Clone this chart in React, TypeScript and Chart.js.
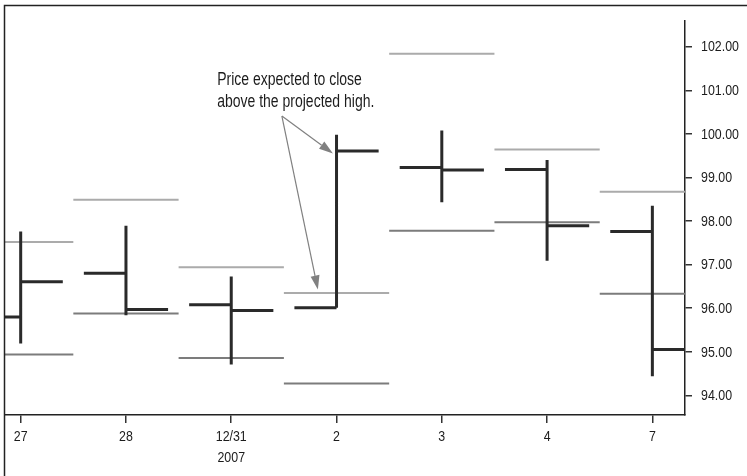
import React, { useEffect, useRef } from 'react';
import { Chart, registerables } from 'chart.js';

Chart.register(...registerables);

// ---- data ----
const days = ['27', '28', '12/31', '2', '3', '4', '7'];
const daySub = ['', '', '2007', '', '', '', ''];
const openP = [95.8, 96.8, 96.08, 96.01, 99.23, 99.18, 97.76];
const highP = [97.76, 97.89, 96.73, 99.98, 100.08, 99.4, 98.35];
const lowP = [95.19, 95.84, 94.71, 96.01, 98.43, 97.09, 94.44];
const closeP = [96.61, 95.97, 95.95, 99.61, 99.17, 97.89, 95.05];
const projHigh = [97.52, 98.49, 96.94, 96.35, 101.84, 99.64, 98.67];
const projLow = [94.94, 95.88, 94.86, 94.27, 97.78, 97.97, 96.33];
const yTicks = [94, 95, 96, 97, 98, 99, 100, 101, 102];
const noteLines = ['Price expected to close', 'above the projected high.'];
const noteAnchor = { x: 1.866, y: 101.12 };
const arrowFrom = { x: 2.481, y: 100.41 };
const arrowTips = [
  { x: 2.966, y: 99.55 },
  { x: 2.823, y: 96.43 },
];

const FONT = "'Liberation Sans', Arial, sans-serif";
const NARROW = 0.8; // horizontal squeeze to mimic a condensed face
const TICK_HALF = 0.4;
const PROJ_HALF = 0.5;
const TEXT_COLOR = '#1c1c1c';

type Pt = { x: number; y: number | null };
function segments(list: [number, number, number, number][]): Pt[] {
  const out: Pt[] = [];
  list.forEach(([x1, y1, x2, y2]) => {
    out.push({ x: x1, y: y1 }, { x: x2, y: y2 }, { x: x2, y: null });
  });
  return out;
}
type Seg = [number, number, number, number];
const rangeSegs = segments(days.map((_, i) => [i, lowP[i], i, highP[i]] as Seg));
const openSegs = segments(days.map((_, i) => [i - TICK_HALF, openP[i], i, openP[i]] as Seg));
const closeSegs = segments(days.map((_, i) => [i, closeP[i], i + TICK_HALF, closeP[i]] as Seg));
const projHighSegs = segments(days.map((_, i) => [i - PROJ_HALF, projHigh[i], i + PROJ_HALF, projHigh[i]] as Seg));
const projLowSegs = segments(days.map((_, i) => [i - PROJ_HALF, projLow[i], i + PROJ_HALF, projLow[i]] as Seg));

function narrowText(ctx: any, text: string, x: number, y: number, align: string, baseline: string) {
  ctx.save();
  ctx.translate(x, y);
  ctx.scale(NARROW, 1);
  ctx.textAlign = align;
  ctx.textBaseline = baseline;
  ctx.fillText(text, 0, 0);
  ctx.restore();
}

const framePlugin = {
  id: 'frame',
  beforeDraw(chart: any) {
    const ctx = chart.ctx;
    ctx.save();
    ctx.fillStyle = '#ffffff';
    ctx.fillRect(0, 0, chart.width, chart.height);
    ctx.restore();
  },
  afterDraw(chart: any) {
    const ctx = chart.ctx;
    const ca = chart.chartArea;
    ctx.save();
    ctx.strokeStyle = '#222';
    ctx.lineWidth = 1.5;
    ctx.beginPath();
    ctx.moveTo(ca.left - 0.5, chart.height);
    ctx.lineTo(ca.left - 0.5, 5.5);
    ctx.lineTo(chart.width, 5.5);
    ctx.stroke();
    ctx.restore();
  },
};

// axis labels drawn from the scales' own ticks, in a condensed face
const tickLabelPlugin = {
  id: 'tickLabels',
  afterDraw(chart: any) {
    const ctx = chart.ctx;
    const xs = chart.scales.x;
    const ys = chart.scales.y;
    ctx.save();
    ctx.fillStyle = TEXT_COLOR;
    ctx.font = `15.5px ${FONT}`;
    ys.ticks.forEach((t: any) => {
      const py = ys.getPixelForValue(t.value);
      narrowText(ctx, Number(t.value).toFixed(2), ys.left + 16, py + 0.5, 'left', 'middle');
    });
    xs.ticks.forEach((t: any) => {
      const px = xs.getPixelForValue(t.value);
      const i = Math.round(Number(t.value));
      narrowText(ctx, days[i], px, xs.top + 22, 'center', 'middle');
      if (daySub[i]) narrowText(ctx, daySub[i], px, xs.top + 43, 'center', 'middle');
    });
    ctx.restore();
  },
};

const notePlugin = {
  id: 'note',
  afterDatasetsDraw(chart: any) {
    const ctx = chart.ctx;
    const xs = chart.scales.x;
    const ys = chart.scales.y;
    ctx.save();
    ctx.fillStyle = TEXT_COLOR;
    ctx.font = `17.5px ${FONT}`;
    const tx = xs.getPixelForValue(noteAnchor.x);
    const ty = ys.getPixelForValue(noteAnchor.y);
    noteLines.forEach((t, k) => narrowText(ctx, t, tx, ty + k * 22, 'left', 'alphabetic'));

    const fx = xs.getPixelForValue(arrowFrom.x);
    const fy = ys.getPixelForValue(arrowFrom.y);
    ctx.strokeStyle = '#808080';
    ctx.fillStyle = '#808080';
    ctx.lineWidth = 1.2;
    arrowTips.forEach((tip) => {
      const px = xs.getPixelForValue(tip.x);
      const py = ys.getPixelForValue(tip.y);
      const ang = Math.atan2(py - fy, px - fx);
      const len = 14;
      const hw = 4.5;
      const bx = px - len * Math.cos(ang);
      const by = py - len * Math.sin(ang);
      ctx.beginPath();
      ctx.moveTo(fx, fy);
      ctx.lineTo(bx, by);
      ctx.stroke();
      ctx.beginPath();
      ctx.moveTo(px, py);
      ctx.lineTo(bx + hw * Math.sin(ang), by - hw * Math.cos(ang));
      ctx.lineTo(bx - hw * Math.sin(ang), by + hw * Math.cos(ang));
      ctx.closePath();
      ctx.fill();
    });
    ctx.restore();
  },
};

function lineDs(data: Pt[], color: string, width: number) {
  return {
    type: 'line' as const,
    data,
    borderColor: color,
    borderWidth: width,
    borderCapStyle: 'butt' as const,
    pointRadius: 0,
    pointHoverRadius: 0,
    spanGaps: false,
    fill: false,
    tension: 0,
  };
}

export default function App() {
  const ref = useRef<HTMLCanvasElement | null>(null);
  useEffect(() => {
    if (!ref.current) return;
    const chart = new Chart(ref.current, {
      type: 'line',
      data: {
        datasets: [
          lineDs(rangeSegs, '#2a2a2a', 3),
          lineDs(openSegs, '#2a2a2a', 3),
          lineDs(closeSegs, '#2a2a2a', 3),
          lineDs(projLowSegs, '#7c7c7c', 2),
          lineDs(projHighSegs, '#ababab', 2),
        ] as any,
      },
      options: {
        responsive: false,
        animation: false,
        events: [],
        layout: { padding: { left: 5, top: 21, right: 0, bottom: 0 } },
        plugins: { legend: { display: false }, tooltip: { enabled: false } },
        scales: {
          x: {
            type: 'linear',
            position: 'bottom',
            min: -0.149,
            max: 6.31,
            afterBuildTicks: (s: any) => {
              s.ticks = days.map((_, i) => ({ value: i }));
            },
            afterFit: (s: any) => {
              s.height = 61;
            },
            grid: { drawOnChartArea: false, drawTicks: true, tickLength: 8, color: '#333', lineWidth: 1.5 },
            border: { display: true, color: '#222', width: 1.5 },
            ticks: {
              display: false,
              autoSkip: false,
              maxRotation: 0,
              callback: (v: any) => days[Math.round(Number(v))],
            },
          },
          y: {
            type: 'linear',
            position: 'right',
            min: 93.55,
            max: 102.59,
            afterBuildTicks: (s: any) => {
              s.ticks = yTicks.map((v) => ({ value: v }));
            },
            afterFit: (s: any) => {
              s.width = 62;
            },
            grid: { drawOnChartArea: false, drawTicks: true, tickLength: 7, color: '#333', lineWidth: 1.5 },
            border: { display: true, color: '#222', width: 1.5 },
            ticks: {
              display: false,
              callback: (v: any) => Number(v).toFixed(2),
            },
          },
        },
      },
      plugins: [framePlugin, tickLabelPlugin, notePlugin],
    } as any);
    return () => chart.destroy();
  }, []);
  return (
    <div style={{ position: 'absolute', left: 0, top: 0, width: 747, height: 476, background: '#fff' }}>
      <canvas ref={ref} width={747} height={476} style={{ display: 'block' }} />
    </div>
  );
}
